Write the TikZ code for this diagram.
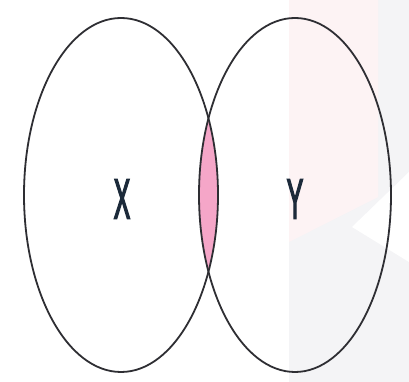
\documentclass[tikz,border=0pt]{standalone}
\usepackage{fontspec}
\setsansfont{Liberation Sans}
\newfontfamily\setfont[FakeBold=4]{Liberation Sans}
\usepackage{tikz}
\usetikzlibrary{positioning}
\usepackage{xcolor}
\definecolor{lenspink}{HTML}{F5A6C8}
\definecolor{setgray}{HTML}{2E2E33}
\definecolor{labelnavy}{HTML}{1C2A3A}
\definecolor{markpink}{HTML}{FDF3F4}
\definecolor{markgray}{HTML}{F4F4F6}

\begin{document}
\begin{tikzpicture}[x=1pt,y=1pt,
  setline/.style={draw=setgray, line width=1.8pt},
  setlabel/.style={text=labelnavy, font=\setfont\fontsize{56}{56}\selectfont, inner sep=0pt}]
\useasboundingbox (0,0) rectangle (409,382);
% faint mark in the background
\fill[markgray] (289,0) rectangle (409,382);
\fill[markpink] (289,382) -- (378,382) -- (378,185) -- (289,140) -- cycle;
\fill[white] (409,210) -- (352,155) -- (409,120) -- cycle;
% overlap of the two sets
\begin{scope}
\clip (121,187) ellipse [x radius=97, y radius=177];
\fill[lenspink] (295,187) ellipse [x radius=96, y radius=177];
\end{scope}
% the two sets
\draw[setline] (121,187) ellipse [x radius=97, y radius=177];
\draw[setline] (295,187) ellipse [x radius=96, y radius=177];
\node[setlabel] (labx) at (122,183) {\scalebox{0.44}[1]{X}};
\node[setlabel] (laby) at (295,183) {\scalebox{0.44}[1]{Y}};
\end{tikzpicture}
\end{document}
